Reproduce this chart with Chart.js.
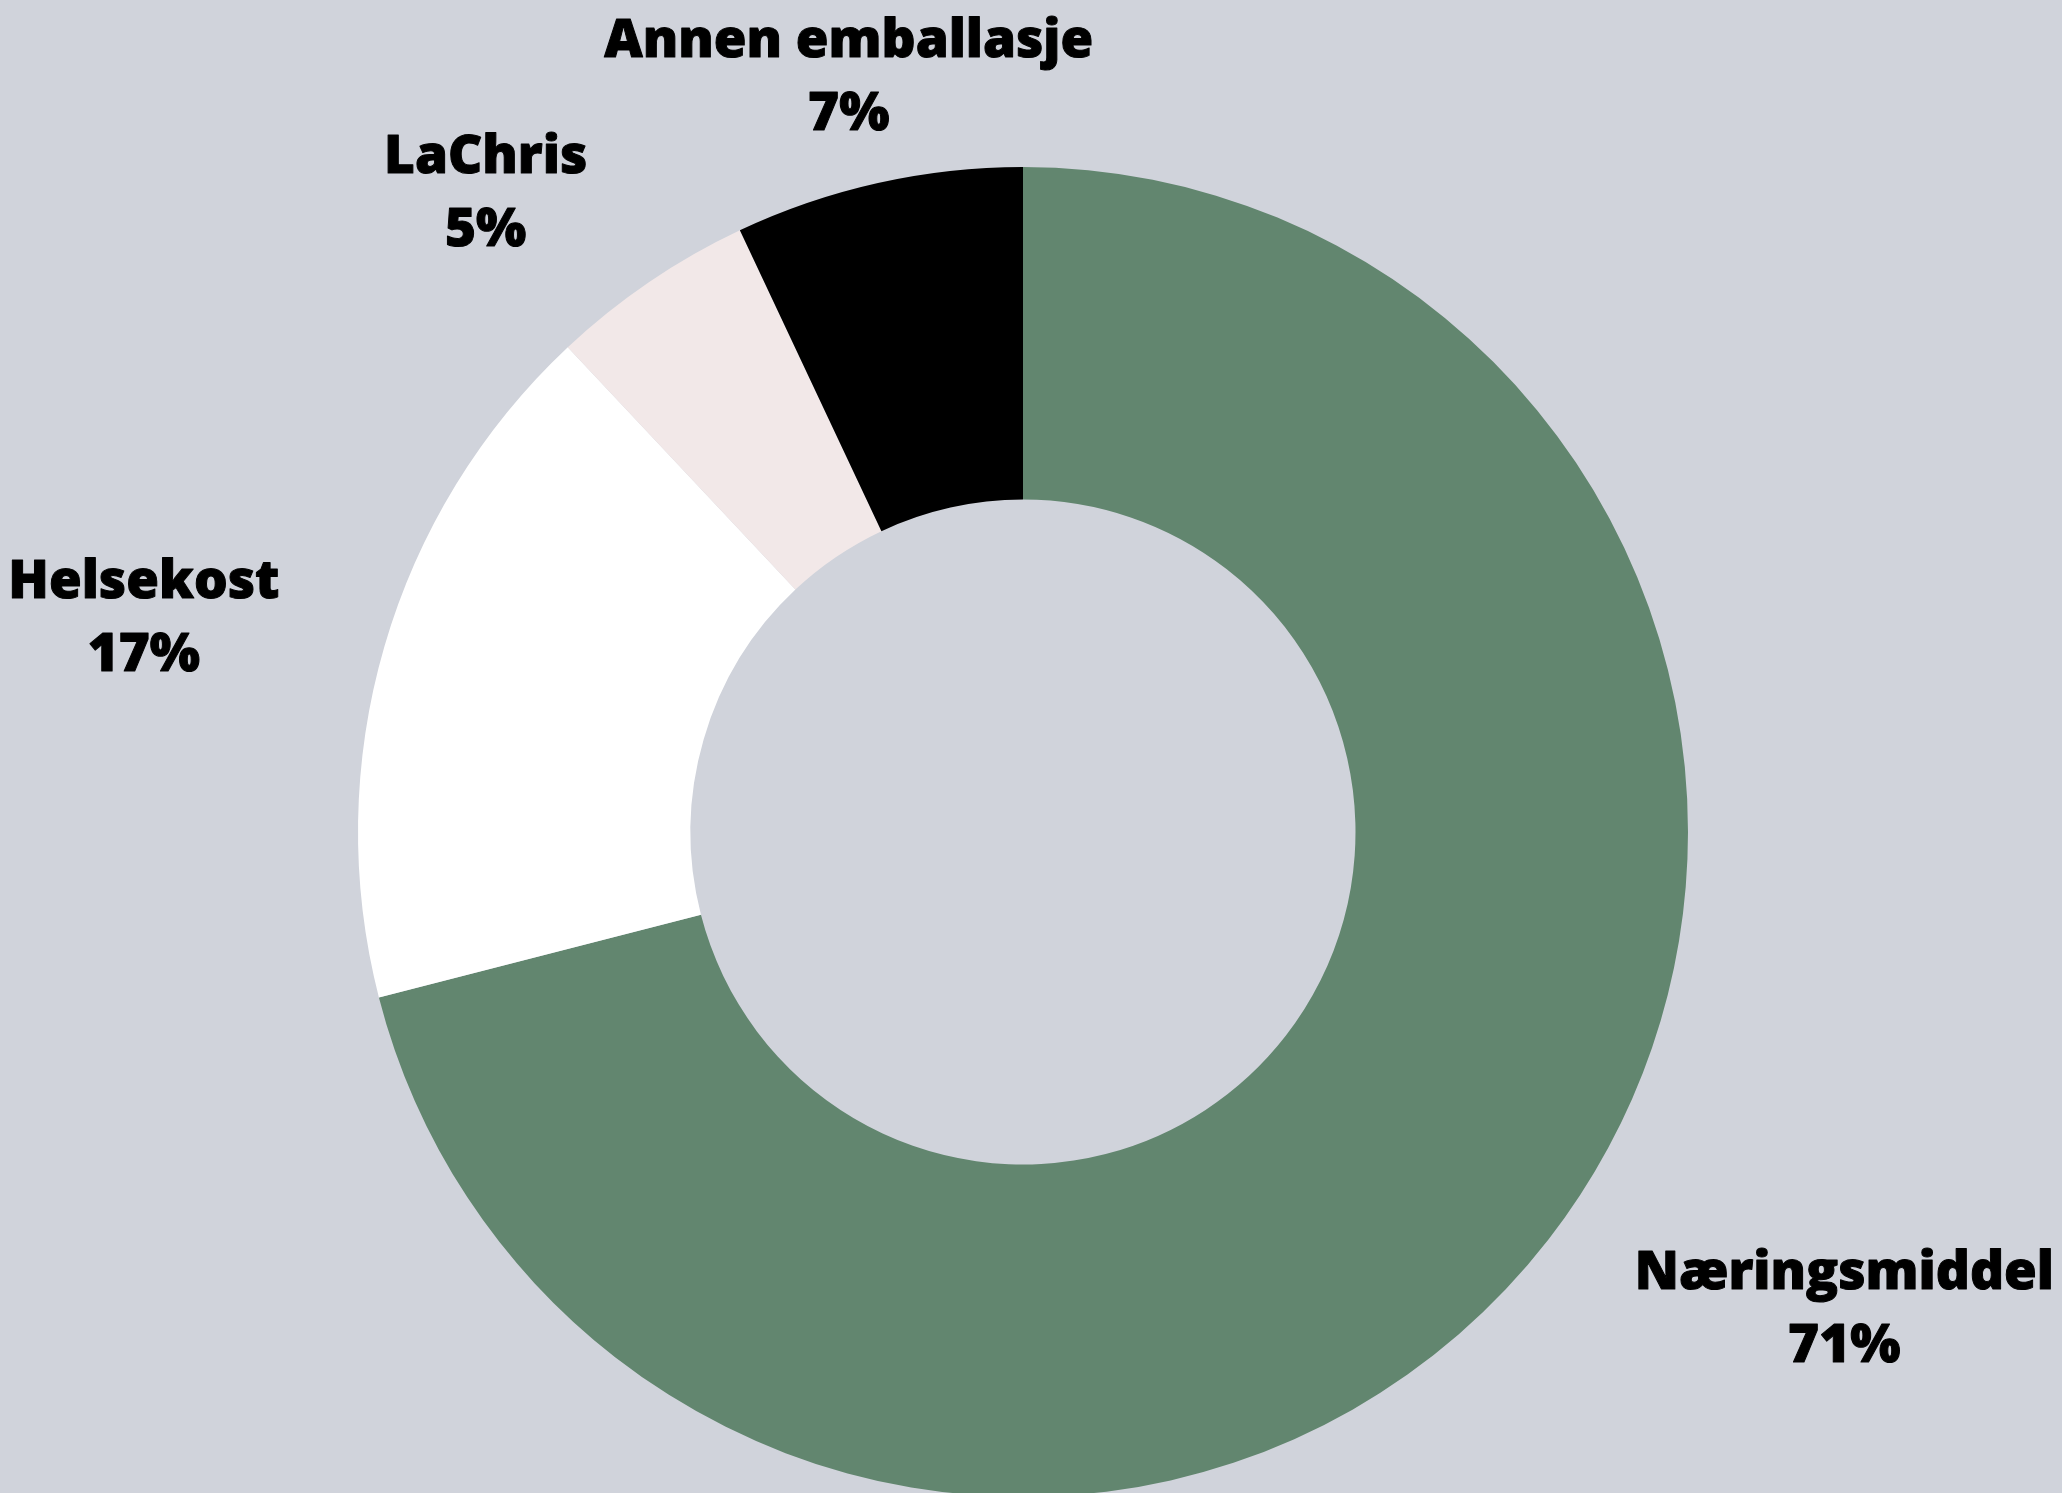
<!DOCTYPE html>
<html>
<head>
<meta charset="utf-8">
<script src="https://cdn.jsdelivr.net/npm/chart.js@4.4.0/dist/chart.umd.min.js"></script>
<style>
  html, body { margin: 0; padding: 0; background: #D0D3DB; overflow: hidden; }
  #wrap { width: 2062px; height: 1500px; position: relative; }
</style>
</head>
<body>
<div id="wrap"><canvas id="grafico"></canvas></div>
<script>
// Datos
const categorias = ['Næringsmiddel', 'Helsekost', 'LaChris', 'Annen emballasje'];
const valores = [71, 17, 5, 7];
const colores = ['#62866F', '#FFFFFF', '#F2E8E8', '#000000'];

// posicion de las etiquetas, en unidades del radio exterior (relativo al centro)
const posEtiquetas = [[1.235, 0.687], [-1.322, -0.352], [-0.808, -0.991], [-0.262, -1.165]];

const etiquetas = {
    id: 'etiquetas',
    afterDraw(chart) {
        const ctx = chart.ctx;
        const meta = chart.getDatasetMeta(0);
        const total = valores.reduce((a, b) => a + b, 0);
        ctx.save();
        ctx.fillStyle = '#000000';
        ctx.strokeStyle = '#000000';
        ctx.lineWidth = 1;
        ctx.lineJoin = 'round';
        ctx.font = '800 53px "Open Sans"';
        ctx.textAlign = 'center';
        ctx.textBaseline = 'alphabetic';
        meta.data.forEach((arc, i) => {
            const r = arc.outerRadius;
            const x = arc.x + posEtiquetas[i][0] * r;
            const y = arc.y + posEtiquetas[i][1] * r;
            const pct = Math.round(valores[i] / total * 100) + '%';
            ctx.fillText(categorias[i], x, y);
            ctx.strokeText(categorias[i], x, y);
            ctx.fillText(pct, x, y + 73);
            ctx.strokeText(pct, x, y + 73);
        });
        ctx.restore();
    }
};

new Chart(document.getElementById('grafico'), {
    type: 'doughnut',
    data: {
        labels: categorias,
        datasets: [{
            data: valores,
            backgroundColor: colores,
            borderWidth: 0,
            hoverOffset: 0
        }]
    },
    options: {
        responsive: true,
        maintainAspectRatio: false,
        animation: false,
        cutout: '50%',
        layout: { padding: { left: 358, right: 374, top: 167, bottom: 3 } },
        plugins: {
            legend: { display: false },
            tooltip: { enabled: false }
        }
    },
    plugins: [etiquetas]
});
</script>
</body>
</html>
